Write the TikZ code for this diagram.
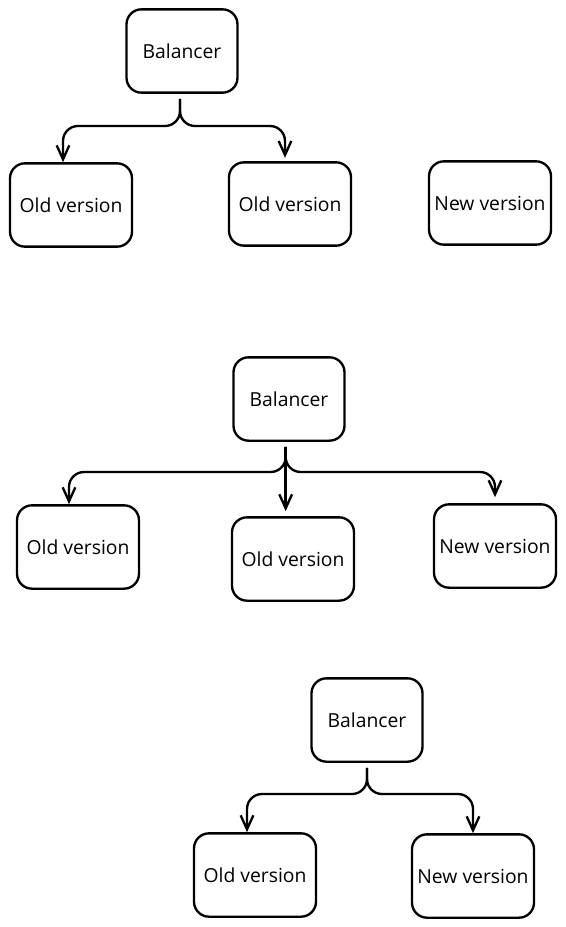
\documentclass[tikz,border=0pt]{standalone}
\usepackage{fontspec}
\setmainfont{Open Sans}
\usetikzlibrary{arrows.meta,positioning,calc}

\begin{document}
\begin{tikzpicture}[
    x=0.03cm, y=-0.03cm,
    box/.style={rectangle, rounded corners=0.45cm, draw, line width=2pt, minimum width=3.66cm, minimum height=2.5cm, align=center, font=\fontsize{16.5}{19}\selectfont},
    lb/.style={box, minimum width=3.33cm},
    arrow/.style={-{Straight Barb[length=4.2mm, width=3.8mm]}, line width=2pt, rounded corners=0.45cm, shorten <=0.15cm},
]
\useasboundingbox (0,0) rectangle (566,927);

% ================== Stage 1 ==================
\node[lb] (bal1) at (182, 51) {Balancer};
\node[box] (old1a) at (71, 205) {Old version};
\node[box] (old1b) at (290, 204) {Old version};
\node[box] (new1) at (490, 203) {New version};

\coordinate (j1) at (0, 126);
\draw[arrow] ([xshift=-0.06cm]bal1.south) -- ([xshift=-0.06cm]bal1.south |- j1) -| ([xshift=-0.24cm]old1a.north);
\draw[arrow] ([xshift=-0.06cm]bal1.south) -- ([xshift=-0.06cm]bal1.south |- j1) -| ([xshift=-0.15cm,yshift=0.1cm]old1b.north);

% ================== Stage 2 ==================
\node[lb] (bal2) at (289, 399) {Balancer};
\node[box] (old2a) at (78, 547) {Old version};
\node[box] (old2b) at (293, 559) {Old version};
\node[box] (new2) at (495, 546) {New version};

\coordinate (j2) at (0, 472);
\draw[arrow] ([xshift=-0.1cm]bal2.south) -- ([xshift=-0.1cm]bal2.south |- j2) -| ([xshift=-0.27cm]old2a.north);
\draw[arrow, shorten >=0.15cm] ([xshift=-0.1cm]bal2.south) -- ([xshift=-0.1cm]bal2.south |- old2b.north);
\draw[arrow, shorten >=0.18cm] ([xshift=-0.1cm]bal2.south) -- ([xshift=-0.1cm]bal2.south |- j2) -| (new2.north);

% ================== Stage 3 ==================
\node[lb] (bal3) at (367, 720) {Balancer};
\node[box] (old3) at (255, 875) {Old version};
\node[box] (new3) at (473, 876) {New version};

\coordinate (j3) at (0, 794);
\draw[arrow] (bal3.south) -- (bal3.south |- j3) -| ([xshift=-0.24cm]old3.north);
\draw[arrow] (bal3.south) -- (bal3.south |- j3) -| (new3.north);

\end{tikzpicture}
\end{document}
